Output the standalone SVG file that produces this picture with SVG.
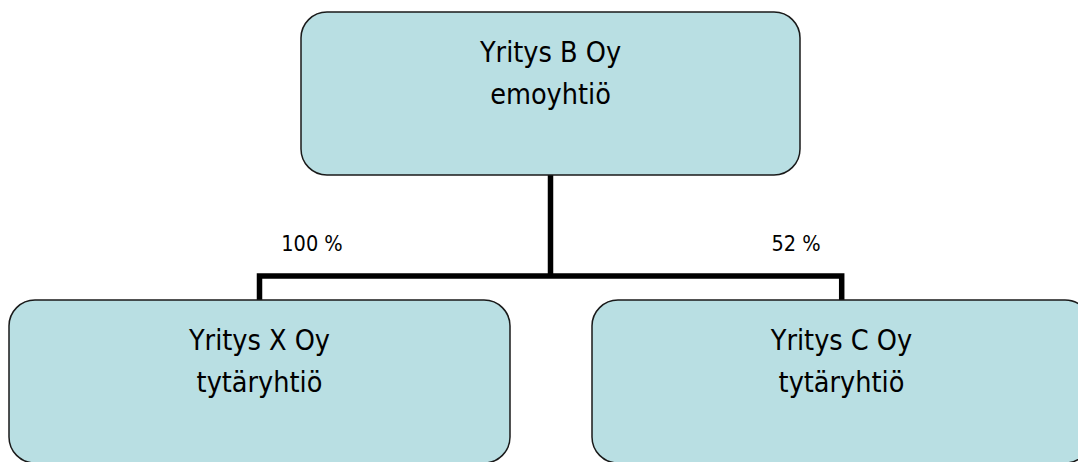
<svg xmlns="http://www.w3.org/2000/svg" width="1078" height="462" viewBox="0 0 1078 462">
  <style>
    .box { fill: #B9DFE3; stroke: #1a1a1a; stroke-width: 1.5; }
    .t { font-family: "DejaVu Sans Condensed", "DejaVu Sans", sans-serif; font-stretch: condensed; font-size: 28.5px; fill: #000; text-anchor: middle; }
    .pct { font-family: "DejaVu Sans Condensed", "DejaVu Sans", sans-serif; font-stretch: condensed; font-size: 21.5px; fill: #000; text-anchor: middle; }
    .conn { fill: none; stroke: #000; stroke-width: 5.5; stroke-linecap: butt; stroke-linejoin: miter; }
  </style>
  <rect width="1078" height="462" fill="#fff"/>
  <g id="connectors">
    <path class="conn" d="M550.5 175 V276"/>
    <path class="conn" d="M259.5 300 V276 H841.7 V300"/>
  </g>
  <g id="node-b">
    <rect class="box" x="301" y="12" width="499" height="163" rx="26" ry="26"/>
    <text class="t" x="550.5" y="62">Yritys B Oy</text>
    <text class="t" x="550.5" y="104">emoyhtiö</text>
  </g>
  <g id="node-x">
    <rect class="box" x="9" y="300" width="501" height="163" rx="26" ry="26"/>
    <text class="t" x="259.5" y="350">Yritys X Oy</text>
    <text class="t" x="259.5" y="392">tytäryhtiö</text>
  </g>
  <g id="node-c">
    <rect class="box" x="592" y="300" width="499" height="163" rx="26" ry="26"/>
    <text class="t" x="841.5" y="350">Yritys C Oy</text>
    <text class="t" x="841.5" y="392">tytäryhtiö</text>
  </g>
  <g id="labels">
    <text class="pct" x="312" y="251">100 %</text>
    <text class="pct" x="796" y="251">52 %</text>
  </g>
</svg>
